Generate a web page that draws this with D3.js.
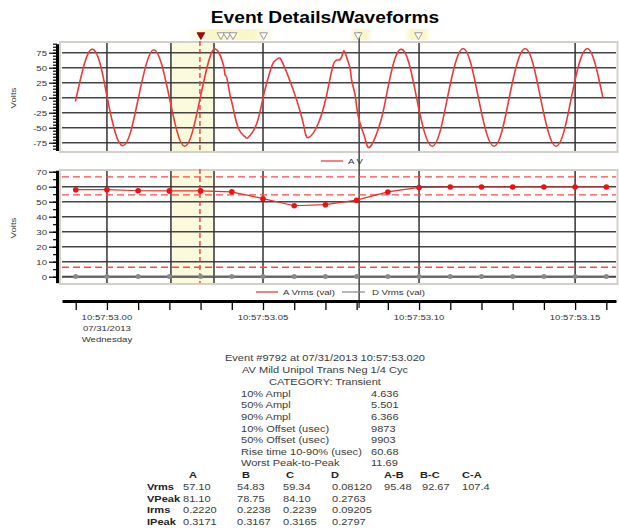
<!DOCTYPE html>
<html><head><meta charset="utf-8">
<script src="https://cdn.jsdelivr.net/npm/d3@7"></script>
<style>
html,body{margin:0;padding:0;background:#fff;}
svg{display:block;font-family:Arial,"Liberation Sans",sans-serif;}
</style></head>
<body><svg id="c" width="619" height="531"></svg>
<script>
// ---------------- DATA ----------------
const title = "Event Details/Waveforms";
// waveform (time in ms after 10:57:53.000, volts)
const waveT = [-10.1,-7.2,-4.7,-2.2,0.1,2.6,5.1,7.6,10.1,12.6,15.0,17.5,20.0,22.5,24.9,27.4,29.9,32.4,34.8,
  37.3,37.8,38.4,39.4,40.3,42.1,44.2,45.3,48.0,50.1,52.2,53.5,54.9,56.3,59.7,61.9,63.2,64.5,67.7,70.4,72.5,74.1,75.2,76.0,77.0,77.9,78.4,79.5,80.0,81.1,82.7,84.3,87.5,89.4,
  91.8,94.3,96.8,99.2,101.7,104.2,106.7,109.1,111.6,114.1,116.6,119.0,121.5,124.0,126.5,128.9,131.4,134.0,136.5,138.9,141.4,143.9,146.4,148.8,151.3,153.9,156.4,158.9];
const waveV = [-6,57,81,57,0,-57,-80,-57,0,56,80,56,0,-57,-81,-57,0,57,81,
  55,38,33,5,-14,-51,-65,-66,-43,2,43,60,65.6,58,12.8,-23,-50,-66.6,-43,4.5,54.5,62.8,68,78,64,49.5,29.5,5,-15,-43,-68,-82,-43,0,
  57,81,57,0,-57,-81,-57,0,57,82,57,0,-57,-81,-57,0,57,82,57,0,-57,-81,-57,0,57,82,57,0];
// RMS samples every half cycle
const rmsT = [-10,0,10,20,30,40,50,60,70,80,90,100,110,120,130,140,150,160];
const aVrms = [58,58,57.3,57.2,57.2,56.6,52,47.3,48,51,56.5,59.5,59.8,59.8,59.8,59.8,59.8,59.8];
const dVrms = [0.1,0.1,0.1,0.1,0.1,0.1,0.1,0.1,0.1,0.1,0.1,0.1,0.1,0.1,0.1,0.1,0.1,0.1];
const limits = [66.5,54.5,6.3];
const topTicks = [-75,-50,-25,0,25,50,75];
const botTicks = [0,10,20,30,40,50,60,70];
const timeLabels = [[0,["10:57:53.00","07/31/2013","Wednesday"]],[50,["10:57:53.05"]],[100,["10:57:53.10"]],[150,["10:57:53.15"]]];
const gridTimes = [0,50,100,150];
const band = [20.5,34.3];
const eventTime = 29.8;
const cursorTime = 80.8;
const redMarker = 30.1;
const hollowMarkers = [36.5,38.5,40.4,50.2,80.5,99.8];
const markerGlow = [[25.3,54.2],[77.6,85],[95.2,104]];
const headLines = ["Event #9792 at 07/31/2013 10:57:53.020","AV Mild Unipol Trans Neg 1/4 Cyc","CATEGORY: Transient"];
const statLabels = ["10% Ampl","50% Ampl","90% Ampl","10% Offset (usec)","50% Offset (usec)","Rise time 10-90% (usec)","Worst Peak-to-Peak"];
const statValues = ["4.636","5.501","6.366","9873","9903","60.68","11.69"];
const colHeaders = ["A","B","C","D","A-B","B-C","C-A"];
const rowLabels = ["Vrms","VPeak","Irms","IPeak"];
const rowValues = [
  ["57.10","54.83","59.34","0.08120","95.48","92.67","107.4"],
  ["81.10","78.75","84.10","0.2763"],
  ["0.2220","0.2238","0.2239","0.09205"],
  ["0.3171","0.3167","0.3165","0.2797"]];

// ---------------- DRAW ----------------
const svg = d3.select("#c");
const SX = 1.2; // horizontal stretch of the original rendering
const RED = "#f02a2a";

function txt(parent, x, y, s, o={}) {
  const g = parent.append("g").attr("transform",`translate(${x},${y}) scale(${SX},1)`);
  const t = g.append("text").text(s)
    .attr("text-anchor", o.anchor||"start")
    .attr("dy", o.dy||"0.35em")
    .attr("font-size", o.size||8)
    .attr("font-weight", o.weight||"normal")
    .attr("fill", o.fill||"#333");
  if (o.rotate) g.attr("transform",`translate(${x},${y}) rotate(${o.rotate}) scale(${SX},1)`);
  return t;
}

const x = d3.scaleLinear().domain([-14.4,163.1]).range([62,616]);
const yT = d3.scaleLinear().domain([-88,90]).range([150.5,43.7]);
const yB = d3.scaleLinear().domain([-4,71]).range([282.7,170.2]);

// title
txt(svg, 325, 17, title, {anchor:"middle", size:16, weight:"bold", fill:"#000"});

// marker strip glow (soft yellow, fading at the edges)
const defs = svg.append("defs");
const grad = defs.append("linearGradient").attr("id","glow");
[[0,0],[0.25,1],[0.75,1],[1,0]].forEach(([o,a])=>grad.append("stop").attr("offset",o).attr("stop-color","#fbf6c8").attr("stop-opacity",a));
markerGlow.forEach(([a,b])=>{
  svg.append("rect").attr("x",x(a)).attr("y",29).attr("width",x(b)-x(a)).attr("height",11).attr("fill","url(#glow)");
});

// panels
function panel(y0,y1){
  svg.append("rect").attr("x",60).attr("y",y0).attr("width",557.5).attr("height",y1-y0)
    .attr("fill","#fff").attr("stroke","#d4d0c8").attr("stroke-width",2);
}
panel(42,152);
panel(170,284);

// bands
[[yT,152,42],[yB,284,170]].forEach(([ys,b,t])=>{
  svg.append("rect").attr("x",x(band[0])).attr("y",t+1).attr("width",x(band[1])-x(band[0])).attr("height",b-t-2).attr("fill","#fcfadc");
});

// horizontal grids
const gT = svg.append("g");
gT.selectAll("line").data(topTicks).join("line")
  .attr("x1",62).attr("x2",616).attr("y1",d=>yT(d)).attr("y2",d=>yT(d))
  .attr("stroke","#444").attr("stroke-width",1.5);
const gB = svg.append("g");
gB.selectAll("line").data(botTicks.filter(d=>d<70)).join("line")
  .attr("x1",62).attr("x2",616).attr("y1",d=>yB(d)).attr("y2",d=>yB(d))
  .attr("stroke","#444").attr("stroke-width",d=>d===0?2:1.5);

// vertical grid lines
const vlines = gridTimes.concat(band);
[[43,151],[171,283]].forEach(([a,b])=>{
  svg.append("g").selectAll("line").data(vlines).join("line")
    .attr("x1",d=>x(d)).attr("x2",d=>x(d)).attr("y1",a).attr("y2",b)
    .attr("stroke","#333").attr("stroke-width",1.5);
  svg.append("line").attr("x1",x(eventTime)).attr("x2",x(eventTime)).attr("y1",a-2).attr("y2",b)
    .attr("stroke",RED).attr("stroke-width",1.3).attr("stroke-dasharray","5,3");
});
// cursor line
svg.append("line").attr("x1",x(cursorTime)).attr("x2",x(cursorTime)).attr("y1",32).attr("y2",308)
  .attr("stroke","#444").attr("stroke-width",1.5);

// limit lines
svg.append("g").selectAll("line").data(limits).join("line")
  .attr("x1",62).attr("x2",616).attr("y1",d=>yB(d)).attr("y2",d=>yB(d))
  .attr("stroke","#ff4848").attr("stroke-width",1.3).attr("stroke-dasharray","7,4");

// waveform
const wave = waveT.map((t,i)=>[t,waveV[i]]);
svg.append("path").datum(wave)
  .attr("d", d3.line().x(d=>x(d[0])).y(d=>yT(d[1])).curve(d3.curveNatural))
  .attr("fill","none").attr("stroke","#f03838").attr("stroke-width",1.6);

// D Vrms
const dData = rmsT.map((t,i)=>[t,dVrms[i]]);
svg.append("path").datum(dData).attr("d",d3.line().x(d=>x(d[0])).y(d=>yB(d[1])))
  .attr("fill","none").attr("stroke","#666").attr("stroke-width",1.5);
svg.append("g").selectAll("circle").data(dData).join("circle")
  .attr("cx",d=>x(d[0])).attr("cy",d=>yB(d[1])).attr("r",2.5).attr("fill","#8a8a8a");
// A Vrms
const aData = rmsT.map((t,i)=>[t,aVrms[i]]);
svg.append("path").datum(aData).attr("d",d3.line().x(d=>x(d[0])).y(d=>yB(d[1])))
  .attr("fill","none").attr("stroke",RED).attr("stroke-width",1.2);
svg.append("g").selectAll("circle").data(aData).join("circle")
  .attr("cx",d=>x(d[0])).attr("cy",d=>yB(d[1])).attr("r",2.8).attr("fill","#ee1111");

// markers
const tri = d3.symbol().type(d3.symbolTriangle).size(26);
svg.append("path").attr("d",tri()).attr("transform",`translate(${x(redMarker)},35) rotate(180)`)
  .attr("fill","#c00000").attr("stroke","#600").attr("stroke-width",0.8);
svg.append("g").selectAll("path").data(hollowMarkers).join("path").attr("d",tri())
  .attr("transform",d=>`translate(${x(d)},35) rotate(180)`)
  .attr("fill","#fff").attr("stroke","#999").attr("stroke-width",1);

// y axes
function yAxis(scale, majors, minors){
  const g = svg.append("g").attr("transform","translate(57,0)");
  g.call(d3.axisLeft(scale).tickValues(minors).tickSize(4).tickSizeOuter(0).tickFormat(""));
  g.select(".domain").remove();
  const g2 = svg.append("g").attr("transform","translate(57,0)");
  g2.call(d3.axisLeft(scale).tickValues(majors).tickSize(8).tickSizeOuter(0));
  g2.select(".domain").attr("stroke","#000").attr("stroke-width",3);
  g2.selectAll(".tick text").remove();
  g.selectAll(".tick line").attr("stroke","#000").attr("stroke-width",1.2);
  g2.selectAll(".tick line").attr("stroke","#000").attr("stroke-width",1.2);
  majors.forEach(v=>txt(svg, 47, scale(v), String(v), {anchor:"end"}));
}
yAxis(yT, topTicks, d3.range(-85,91,5));
yAxis(yB, botTicks, d3.range(0,71,5));
txt(svg, 13, 98, "Volts", {anchor:"middle", rotate:-90});
txt(svg, 13, 228, "Volts", {anchor:"middle", rotate:-90});

// legends
svg.append("line").attr("x1",321).attr("x2",343).attr("y1",161).attr("y2",161).attr("stroke",RED).attr("stroke-width",1.2);
txt(svg, 348, 161, "A V");
svg.append("line").attr("x1",256).attr("x2",278).attr("y1",292).attr("y2",292).attr("stroke",RED).attr("stroke-width",1.2);
txt(svg, 283, 292, "A Vrms (val)");
svg.append("line").attr("x1",342).attr("x2",365).attr("y1",292).attr("y2",292).attr("stroke","#888").attr("stroke-width",1.2);
txt(svg, 372, 292, "D Vrms (val)");

// time axis
const ta = svg.append("g").attr("transform","translate(0,301)");
ta.call(d3.axisBottom(x).tickValues(d3.range(-10,161,10)).tickSize(9).tickSizeOuter(0).tickFormat(""));
ta.select(".domain").attr("stroke","#000").attr("stroke-width",3);
ta.selectAll(".tick line").attr("stroke","#000").attr("stroke-width",1.3);
timeLabels.forEach(([t,lines])=>{
  lines.forEach((s,i)=>txt(svg, x(t), 317+i*11.3, s, {anchor:"middle"}));
});

// stats text
const FS = 9.2, COL="#3a3a3a";
headLines.forEach((s,i)=>txt(svg, 325, 358+i*12, s, {anchor:"middle", size:FS, fill:COL}));
statLabels.forEach((s,i)=>{
  txt(svg, 241, 393.5+i*11.6, s, {size:FS, fill:COL});
  txt(svg, 371, 393.5+i*11.6, statValues[i], {size:FS, fill:COL});
});
const colX = [183,237,283,332,384,422,462];
const headX = [189,242,286,331,384,420,462];
colHeaders.forEach((s,i)=>txt(svg, headX[i], 475, s, {size:FS, weight:"bold", fill:"#222"}));
rowLabels.forEach((s,r)=>{
  const y = 487+r*11.6;
  txt(svg, 147, y, s, {size:FS, weight:"bold", fill:"#222"});
  rowValues[r].forEach((v,i)=>txt(svg, colX[i], y, v, {size:FS, fill:COL}));
});
</script></body></html>
